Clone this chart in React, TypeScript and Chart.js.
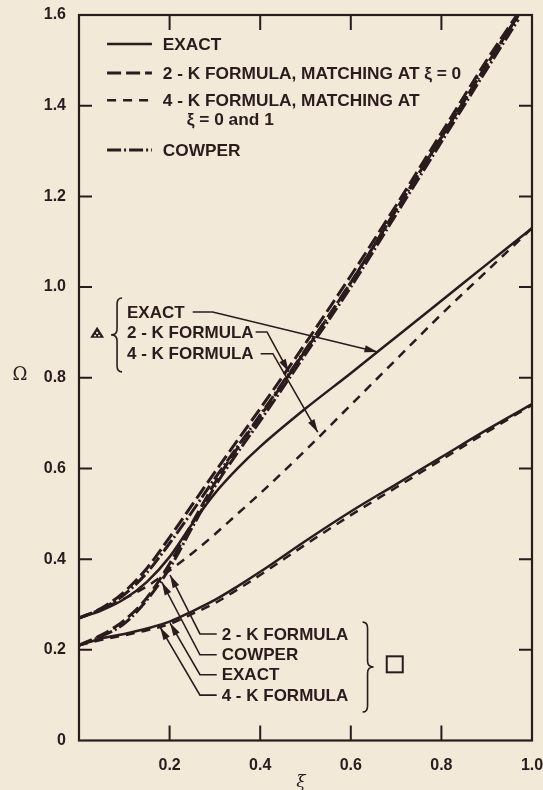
import React, { useEffect, useRef } from 'react';
import { Chart, registerables } from 'chart.js';

Chart.register(...registerables);

// ---- data ----
const XS = [0, 0.05, 0.1, 0.15, 0.2, 0.25, 0.3, 0.35, 0.4, 0.5, 0.6, 0.7, 0.8, 0.9, 1.0];
const XS_STEEP = [0, 0.05, 0.1, 0.15, 0.2, 0.25, 0.3, 0.35, 0.4, 0.5, 0.6, 0.7, 0.8, 0.9, 0.97];

// triangle mode
const TRI_EXACT = [0.27, 0.287, 0.312, 0.35, 0.405, 0.478, 0.545, 0.6, 0.648, 0.732, 0.81, 0.89, 0.97, 1.05, 1.13];
const TRI_4K = [0.27, 0.29, 0.313, 0.34, 0.375, 0.413, 0.455, 0.5, 0.545, 0.64, 0.74, 0.84, 0.94, 1.035, 1.13];
const TRI_2K = [0.27, 0.292, 0.328, 0.38, 0.448, 0.52, 0.592, 0.662, 0.732, 0.876, 1.025, 1.18, 1.34, 1.5, 1.605];
const TRI_COWPER = [0.27, 0.29, 0.322, 0.37, 0.435, 0.505, 0.578, 0.648, 0.718, 0.862, 1.01, 1.17, 1.33, 1.49, 1.6];

// square mode
const SQ_EXACT = [0.21, 0.225, 0.235, 0.247, 0.262, 0.285, 0.31, 0.34, 0.372, 0.44, 0.505, 0.565, 0.625, 0.685, 0.742];
const SQ_4K = [0.21, 0.222, 0.232, 0.243, 0.257, 0.279, 0.303, 0.333, 0.365, 0.432, 0.497, 0.558, 0.619, 0.68, 0.74];
const SQ_2K = [0.21, 0.233, 0.265, 0.315, 0.39, 0.48, 0.568, 0.645, 0.715, 0.86, 1.01, 1.17, 1.33, 1.49, 1.6];
const SQ_COWPER = [0.21, 0.23, 0.258, 0.31, 0.38, 0.47, 0.56, 0.635, 0.705, 0.852, 1.0, 1.16, 1.32, 1.48, 1.59];

const X_TICKS = [0, 0.2, 0.4, 0.6, 0.8, 1.0];
const Y_TICKS = [0, 0.2, 0.4, 0.6, 0.8, 1.0, 1.2, 1.4, 1.6];

const LEGEND_LABELS = ['EXACT', '2 - K FORMULA, MATCHING AT ξ = 0', '4 - K FORMULA, MATCHING AT', 'COWPER'];
const LEGEND_LINE2 = 'ξ = 0 and 1';
const TRI_LABELS = ['EXACT', '2 - K FORMULA', '4 - K FORMULA'];
const SQ_LABELS = ['2 - K FORMULA', 'COWPER', 'EXACT', '4 - K FORMULA'];

// ---- styles ----
const INK = '#2a1b1c';
const BG = '#f3e9d8';
const FONT = "'Liberation Sans', Arial, Helvetica, sans-serif";
const STYLE_EXACT = { dash: [] as number[], width: 2.5 };
const STYLE_2K = { dash: [14, 5], width: 3 };
const STYLE_4K = { dash: [9, 7], width: 2.5 };
const STYLE_COWPER = { dash: [14, 3, 2, 3], width: 3 };

function pts(xs: number[], ys: number[]) {
  return xs.map((x, i) => ({ x, y: ys[i] }));
}

function ds(label: string, xs: number[], ys: number[], st: { dash: number[]; width: number }) {
  return {
    label,
    data: pts(xs, ys),
    borderColor: INK,
    borderWidth: st.width,
    borderDash: st.dash,
    pointRadius: 0,
    fill: false,
    cubicInterpolationMode: 'monotone' as const,
    borderCapStyle: 'butt' as const,
  };
}

function arrowHead(ctx: CanvasRenderingContext2D, fx: number, fy: number, tx: number, ty: number) {
  const a = Math.atan2(ty - fy, tx - fx);
  const L = 13, W = 3.6;
  ctx.beginPath();
  ctx.moveTo(tx, ty);
  ctx.lineTo(tx - L * Math.cos(a) + W * Math.sin(a), ty - L * Math.sin(a) - W * Math.cos(a));
  ctx.lineTo(tx - L * Math.cos(a) - W * Math.sin(a), ty - L * Math.sin(a) + W * Math.cos(a));
  ctx.closePath();
  ctx.fill();
}

function leader(ctx: CanvasRenderingContext2D, p: number[][]) {
  ctx.beginPath();
  ctx.moveTo(p[0][0], p[0][1]);
  for (let i = 1; i < p.length; i++) ctx.lineTo(p[i][0], p[i][1]);
  ctx.stroke();
  const n = p.length;
  arrowHead(ctx, p[n - 2][0], p[n - 2][1], p[n - 1][0], p[n - 1][1]);
}

function brace(ctx: CanvasRenderingContext2D, x: number, y1: number, y2: number, dir: number) {
  const xe = x - dir * 5;
  const xt = x + dir * 6;
  const ym = (y1 + y2) / 2;
  const r = 6;
  ctx.beginPath();
  ctx.moveTo(xe, y1);
  ctx.quadraticCurveTo(x, y1, x, y1 + r);
  ctx.lineTo(x, ym - r);
  ctx.quadraticCurveTo(x, ym, xt, ym);
  ctx.quadraticCurveTo(x, ym, x, ym + r);
  ctx.lineTo(x, y2 - r);
  ctx.quadraticCurveTo(x, y2, xe, y2);
  ctx.stroke();
}

const decor = {
  id: 'decor',
  beforeDraw(chart: any) {
    const ctx = chart.ctx;
    ctx.save();
    ctx.fillStyle = BG;
    ctx.fillRect(0, 0, chart.width, chart.height);
    ctx.restore();
  },
  afterDraw(chart: any) {
    const ctx: CanvasRenderingContext2D = chart.ctx;
    const sx = chart.scales.x, sy = chart.scales.y;
    const X = (v: number) => sx.getPixelForValue(v);
    const Y = (v: number) => sy.getPixelForValue(v);
    const { left, right, top, bottom } = chart.chartArea;
    ctx.save();
    ctx.strokeStyle = INK;
    ctx.fillStyle = INK;
    ctx.setLineDash([]);

    // frame
    ctx.lineWidth = 2.2;
    ctx.strokeRect(left, top, right - left, bottom - top);

    // inward ticks
    ctx.lineWidth = 2;
    ctx.beginPath();
    Y_TICKS.forEach((t) => {
      if (t <= 0 || t >= 1.6) return;
      const y = Y(t);
      ctx.moveTo(left, y); ctx.lineTo(left + 13, y);
      ctx.moveTo(right, y); ctx.lineTo(right - 13, y);
    });
    X_TICKS.forEach((t) => {
      if (t <= 0 || t >= 1.0) return;
      const x = X(t);
      ctx.moveTo(x, top); ctx.lineTo(x, top + 15);
      ctx.moveTo(x, bottom); ctx.lineTo(x, bottom - 15);
    });
    ctx.stroke();

    // axis titles
    ctx.font = `18px 'DejaVu Serif', 'Liberation Serif', serif`;
    ctx.textAlign = 'center';
    ctx.textBaseline = 'middle';
    ctx.fillText('Ω', 20, Y(0.805));
    ctx.font = `italic 17px 'DejaVu Serif', 'Liberation Serif', serif`;
    ctx.fillText('ξ', X(0.49), 783);

    // legend
    const lx1 = X(0.062), lx2 = X(0.161), tx = X(0.185);
    const legY = [1.536, 1.472, 1.412, 1.302];
    const styles = [STYLE_EXACT, STYLE_2K, STYLE_4K, STYLE_COWPER];
    ctx.font = `bold 17.3px ${FONT}`;
    ctx.textAlign = 'left';
    legY.forEach((v, i) => {
      const y = Y(v);
      ctx.lineWidth = styles[i].width;
      ctx.setLineDash(styles[i].dash);
      ctx.beginPath();
      ctx.moveTo(lx1, y); ctx.lineTo(lx2, y);
      ctx.stroke();
      ctx.setLineDash([]);
      ctx.fillText(LEGEND_LABELS[i], tx, y + 1);
    });
    ctx.fillText(LEGEND_LINE2, X(0.238), Y(1.37) + 1);

    // triangle group annotation
    ctx.lineWidth = 1.6;
    brace(ctx, X(0.084), Y(0.976), Y(0.813), -1);
    // triangle symbol
    const cx = X(0.04), cy = Y(0.899);
    ctx.beginPath();
    ctx.moveTo(cx, cy - 6); ctx.lineTo(cx + 7, cy + 5); ctx.lineTo(cx - 7, cy + 5); ctx.closePath();
    ctx.fill();
    ctx.fillStyle = BG;
    ctx.fillRect(cx - 1, cy - 1, 2, 2);
    ctx.fillRect(cx - 3, cy + 2, 2, 1.5);
    ctx.fillRect(cx + 1, cy + 2, 2, 1.5);
    ctx.fillStyle = INK;

    const triTxtX = X(0.106);
    const triY = [0.945, 0.901, 0.853];
    ctx.font = `bold 17px ${FONT}`;
    triY.forEach((v, i) => ctx.fillText(TRI_LABELS[i], triTxtX, Y(v) + 1));

    ctx.lineWidth = 1.6;
    leader(ctx, [[X(0.251), Y(0.945)], [X(0.295), Y(0.945)], [X(0.659), Y(0.857)]]);
    leader(ctx, [[X(0.39), Y(0.901)], [X(0.415), Y(0.901)], [X(0.463), Y(0.813)]]);
    leader(ctx, [[X(0.401), Y(0.853)], [X(0.428), Y(0.853)], [X(0.527), Y(0.68)]]);

    // square group annotation
    const sqTxtX = X(0.315);
    const sqY = [0.235, 0.189, 0.145, 0.1];
    const tips = [[0.201, 0.365], [0.183, 0.349], [0.201, 0.259], [0.179, 0.25]];
    sqY.forEach((v, i) => {
      ctx.fillText(SQ_LABELS[i], sqTxtX, Y(v) + 1);
      leader(ctx, [[X(0.304), Y(v)], [X(0.267), Y(v)], [X(tips[i][0]), Y(tips[i][1])]]);
    });
    brace(ctx, X(0.637), Y(0.261), Y(0.063), 1);
    ctx.lineWidth = 2;
    const qx = X(0.697), qy = Y(0.168);
    ctx.strokeRect(qx - 8, qy - 8, 16, 16);

    ctx.restore();
  },
};

export default function App() {
  const ref = useRef<HTMLCanvasElement | null>(null);

  useEffect(() => {
    document.body.style.margin = '0';
    document.body.style.background = BG;
    const canvas = ref.current;
    if (!canvas) return;
    const chart = new Chart(canvas, {
      type: 'line',
      data: {
        datasets: [
          ds('EXACT (triangle)', XS, TRI_EXACT, STYLE_EXACT),
          ds('4-K (triangle)', XS, TRI_4K, STYLE_4K),
          ds('2-K (triangle)', XS_STEEP, TRI_2K, STYLE_2K),
          ds('COWPER (triangle)', XS_STEEP, TRI_COWPER, STYLE_COWPER),
          ds('EXACT (square)', XS, SQ_EXACT, STYLE_EXACT),
          ds('4-K (square)', XS, SQ_4K, STYLE_4K),
          ds('2-K (square)', XS_STEEP, SQ_2K, STYLE_2K),
          ds('COWPER (square)', XS_STEEP, SQ_COWPER, STYLE_COWPER),
        ] as any,
      },
      options: {
        animation: false,
        responsive: false,
        devicePixelRatio: 1,
        layout: { padding: { left: 0, top: 15, right: 11, bottom: 0 } },
        plugins: { legend: { display: false }, tooltip: { enabled: false } },
        scales: {
          x: {
            type: 'linear',
            min: 0,
            max: 1,
            afterBuildTicks: (s: any) => { s.ticks = X_TICKS.map((v) => ({ value: v })); },
            afterFit: (s: any) => { s.height = 49.5; s.paddingLeft = 0; s.paddingRight = 0; },
            ticks: {
              color: INK,
              font: { family: FONT, size: 16, weight: 'bold' },
              padding: 15,
              maxRotation: 0,
              autoSkip: false,
              callback: (v: any) => (Number(v) === 0 ? '' : Number(v).toFixed(1)),
            },
            grid: { display: false, drawTicks: false },
            border: { display: false },
          },
          y: {
            type: 'linear',
            min: 0,
            max: 1.6,
            afterBuildTicks: (s: any) => { s.ticks = Y_TICKS.map((v) => ({ value: v })); },
            afterFit: (s: any) => { s.width = 79; s.paddingTop = 0; s.paddingBottom = 0; },
            ticks: {
              color: INK,
              font: { family: FONT, size: 16, weight: 'bold' },
              padding: 13,
              autoSkip: false,
              callback: (v: any) => (Number(v) === 0 ? '0' : Number(v).toFixed(1)),
            },
            grid: { display: false, drawTicks: false },
            border: { display: false },
          },
        },
      } as any,
      plugins: [decor],
    });
    return () => chart.destroy();
  }, []);

  return (
    <div style={{ position: 'absolute', left: 0, top: 0, width: 543, height: 790, background: BG }}>
      <canvas ref={ref} width={543} height={790} style={{ display: 'block', width: 543, height: 790 }} />
    </div>
  );
}
